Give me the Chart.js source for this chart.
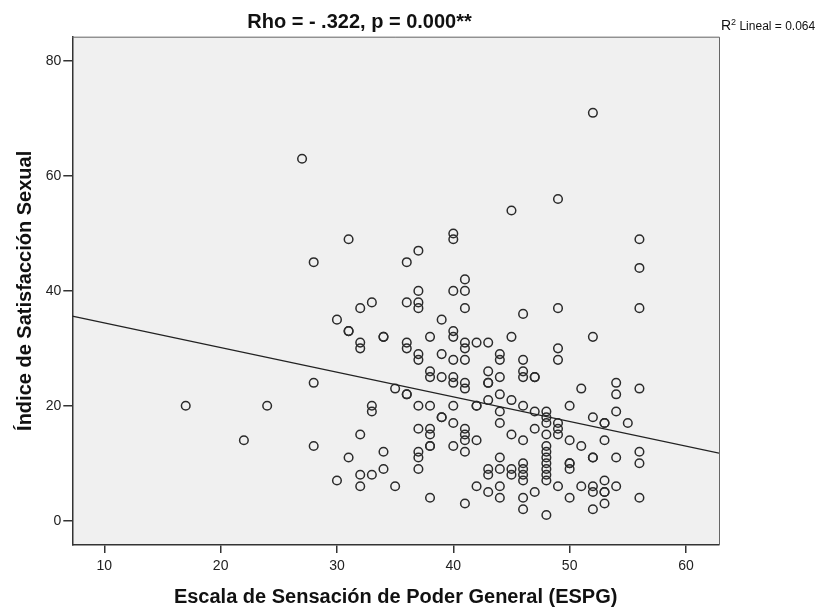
<!DOCTYPE html>
<html>
<head>
<meta charset="utf-8">
<script src="https://cdn.jsdelivr.net/npm/chart.js@4.4.1/dist/chart.umd.min.js"></script>
<style>
  html, body { margin: 0; padding: 0; background: #fff; }
  canvas { display: block; }
</style>
</head>
<body>
<canvas id="chart" width="833" height="611"></canvas>
<script>
// ESPG score (x) and sexual satisfaction index (y), one line per ESPG value
const espg = [
  17, 22, 24, 27,
  28, 28, 28,
  30, 30,
  31, 31, 31, 31,
  32, 32, 32, 32, 32, 32,
  33, 33, 33, 33,
  34, 34, 34, 34,
  35, 35,
  36, 36, 36, 36, 36, 36,
  37, 37, 37, 37, 37, 37, 37, 37, 37, 37, 37,
  38, 38, 38, 38, 38, 38, 38, 38, 38,
  39, 39, 39, 39, 39,
  40, 40, 40, 40, 40, 40, 40, 40, 40, 40, 40,
  41, 41, 41, 41, 41, 41, 41, 41, 41, 41, 41, 41, 41,
  42, 42, 42, 42, 42,
  43, 43, 43, 43, 43, 43, 43, 43,
  44, 44, 44, 44, 44, 44, 44, 44, 44, 44,
  45, 45, 45, 45, 45, 45,
  46, 46, 46, 46, 46, 46, 46, 46, 46, 46, 46, 46,
  47, 47, 47, 47, 47,
  48, 48, 48, 48, 48, 48, 48, 48, 48, 48, 48, 48,
  49, 49, 49, 49, 49, 49, 49, 49,
  50, 50, 50, 50, 50, 50,
  51, 51, 51,
  52, 52, 52, 52, 52, 52, 52, 52,
  53, 53, 53, 53, 53, 53, 53,
  54, 54, 54, 54, 54,
  55,
  56, 56, 56, 56, 56, 56, 56
];
const satisfaccion = [
  20, 14, 20, 63,
  45, 24, 13,
  35, 7,
  49, 33, 33, 11,
  37, 31, 30, 15, 8, 6,
  38, 20, 19, 8,
  32, 32, 12, 9,
  23, 6,
  45, 38, 31, 30, 22, 22,
  47, 40, 38, 37, 29, 28, 20, 16, 12, 11, 9,
  32, 26, 25, 20, 16, 15, 13, 13, 4,
  35, 29, 25, 18, 18,
  50, 49, 40, 33, 32, 28, 25, 24, 20, 17, 13,
  42, 40, 37, 31, 30, 28, 24, 23, 16, 15, 14, 12, 3,
  31, 20, 20, 14, 6,
  31, 26, 24, 24, 21, 9, 8, 5,
  29, 28, 25, 22, 19, 17, 11, 9, 6, 4,
  54, 32, 21, 15, 9, 8,
  36, 28, 26, 25, 20, 14, 10, 9, 8, 7, 4, 2,
  25, 25, 19, 16, 5,
  19, 18, 17, 15, 13, 12, 11, 10, 9, 8, 7, 1,
  56, 37, 30, 28, 17, 16, 15, 6,
  20, 14, 10, 10, 9, 4,
  23, 13, 6,
  71, 32, 18, 11, 11, 6, 5, 2,
  17, 17, 14, 7, 5, 5, 3,
  24, 22, 19, 11, 6,
  17,
  49, 44, 37, 23, 12, 10, 4
];

const xTicks = [10, 20, 30, 40, 50, 60];
const yTicks = [0, 20, 40, 60, 80];
const xRange = [7.25, 62.84];
const yRange = [-4.23, 84.25];

// linear fit (R2 lineal = 0.064)
const fitIntercept = 38.71;
const fitSlope = -0.429;

const FONT = "'Liberation Sans', Arial, sans-serif";

const points = espg.map((x, i) => ({ x: x, y: satisfaccion[i] }));
const fitLine = xRange.map(x => ({ x: x, y: fitIntercept + fitSlope * x }));

// grey plot box + R2 label
const plotBox = {
  id: "plotBox",
  beforeDraw(chart) {
    const { ctx, chartArea: a } = chart;
    ctx.save();
    ctx.fillStyle = "#fff";
    ctx.fillRect(0, 0, chart.width, chart.height);
    ctx.fillStyle = "#f0f0f0";
    ctx.fillRect(a.left, a.top, a.right - a.left, a.bottom - a.top);
    ctx.restore();
  },
  afterDraw(chart) {
    const { ctx, chartArea: a } = chart;
    ctx.save();
    ctx.strokeStyle = "#666";
    ctx.lineWidth = 1;
    ctx.beginPath();
    ctx.moveTo(a.left, a.top + 0.5);
    ctx.lineTo(a.right + 0.5, a.top + 0.5);
    ctx.lineTo(a.right + 0.5, a.bottom);
    ctx.stroke();

    // R² Lineal = 0.064
    let x = a.right + 2;
    const y = a.top - 7;
    ctx.fillStyle = "#111";
    ctx.textBaseline = "alphabetic";
    ctx.font = "14px " + FONT;
    ctx.fillText("R", x, y);
    x += ctx.measureText("R").width;
    ctx.font = "9px " + FONT;
    ctx.fillText("2", x, y - 5);
    x += ctx.measureText("2").width;
    ctx.font = "12px " + FONT;
    ctx.fillText(" Lineal = 0.064", x, y);
    ctx.restore();
  }
};

new Chart(document.getElementById("chart").getContext("2d"), {
  type: "scatter",
  data: {
    datasets: [
      {
        label: "Casos",
        data: points,
        pointStyle: "circle",
        pointRadius: 4.3,
        pointBorderWidth: 1.5,
        borderColor: "#2b2b2b",
        backgroundColor: "rgba(0,0,0,0)",
        order: 1
      },
      {
        label: "Lineal",
        data: fitLine,
        showLine: true,
        borderColor: "#222",
        borderWidth: 1.2,
        pointRadius: 0,
        order: 0
      }
    ]
  },
  options: {
    responsive: false,
    animation: false,
    devicePixelRatio: 1,
    layout: { padding: { left: 0, right: 114, top: 0, bottom: 0 } },
    plugins: {
      legend: { display: false },
      tooltip: { enabled: false },
      title: {
        display: true,
        text: "Rho = - .322, p = 0.000**",
        color: "#111",
        font: { family: FONT, size: 20, weight: "bold" },
        padding: { top: 10, bottom: 2.7 }
      }
    },
    scales: {
      x: {
        type: "linear",
        min: xRange[0],
        max: xRange[1],
        afterBuildTicks: axis => { axis.ticks = xTicks.map(v => ({ value: v })); },
        afterFit: axis => { axis.height = 66; },
        ticks: { color: "#222", padding: 5, font: { family: FONT, size: 14 } },
        grid: { drawOnChartArea: false, drawTicks: true, tickLength: 8, color: "#333", lineWidth: 1.5 },
        border: { display: true, color: "#333", width: 1.5 },
        title: {
          display: true,
          text: "Escala de Sensación de Poder General (ESPG)",
          color: "#111",
          font: { family: FONT, size: 20, weight: "bold" },
          padding: { top: 0, bottom: 2 }
        }
      },
      y: {
        type: "linear",
        min: yRange[0],
        max: yRange[1],
        afterBuildTicks: axis => { axis.ticks = yTicks.map(v => ({ value: v })); },
        afterFit: axis => { axis.width = 72.3; },
        ticks: { color: "#222", padding: 2, font: { family: FONT, size: 14 } },
        grid: { drawOnChartArea: false, drawTicks: true, tickLength: 9, color: "#333", lineWidth: 1.5 },
        border: { display: true, color: "#333", width: 1.5 },
        title: {
          display: true,
          text: "Índice de Satisfacción Sexual",
          color: "#111",
          font: { family: FONT, size: 20, weight: "bold" },
          padding: { top: 13.5, bottom: 0 }
        }
      }
    }
  },
  plugins: [plotBox]
});
</script>
</body>
</html>
